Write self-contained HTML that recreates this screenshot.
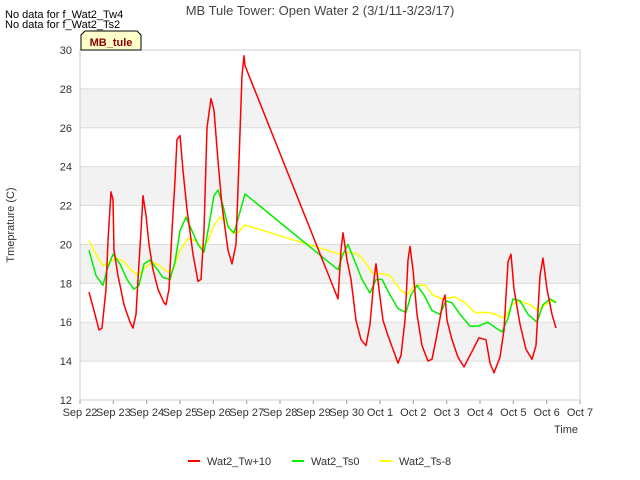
<!DOCTYPE html>
<html><head><meta charset="utf-8"><style>
body{margin:0;background:#fff;font-family:"Liberation Sans",sans-serif}
svg{display:block}
</style></head><body>
<svg id="chart" width="640" height="480" xmlns="http://www.w3.org/2000/svg" font-family="Liberation Sans, sans-serif">
<text x="320" y="15" text-anchor="middle" font-size="13" fill="#444">MB Tule Tower: Open Water 2 (3/1/11-3/23/17)</text>
<text x="5" y="18" font-size="11" fill="#000">No data for f_Wat2_Tw4</text>
<text x="5" y="28" font-size="11" fill="#000">No data for f_Wat2_Ts2</text>
<g id="plot"></g>
<g>
<path d="M81,50 L81,35 L85,31 L137,31 L141,35 L141,50 Z" fill="#ffffcc" stroke="#000" stroke-width="1"/>
<text x="111" y="46" text-anchor="middle" font-size="11" font-weight="bold" fill="#8b0000">MB_tule</text>
</g>
<text x="14" y="225" font-size="11" fill="#333" text-anchor="middle" transform="rotate(-90 14 225)">Tmeprature (C)</text>
<text x="578" y="433" font-size="11" fill="#333" text-anchor="end">Time</text>
<g id="legend"></g>
</svg>
<script>
const xTickLabels=["Sep 22","Sep 23","Sep 24","Sep 25","Sep 26","Sep 27","Sep 28","Sep 29","Sep 30","Oct 1","Oct 2","Oct 3","Oct 4","Oct 5","Oct 6","Oct 7"];
const yTicks=[12,14,16,18,20,22,24,26,28,30];
const seriesNames=["Wat2_Tw+10","Wat2_Ts0","Wat2_Ts-8"];
const twDays=[0.27,0.45,0.57,0.66,0.78,0.84,0.93,0.99,1.02,1.14,1.32,1.5,1.59,1.68,1.74,1.83,1.89,1.98,2.07,2.19,2.34,2.52,2.58,2.67,2.76,2.85,2.91,3,3.09,3.21,3.39,3.54,3.63,3.72,3.81,3.93,4.02,4.14,4.26,4.44,4.56,4.68,4.77,4.86,4.92,4.95,7.74,7.83,7.89,8.01,8.13,8.28,8.43,8.58,8.7,8.82,8.88,8.97,9.09,9.24,9.39,9.54,9.63,9.75,9.84,9.9,9.99,10.11,10.26,10.44,10.56,10.68,10.8,10.89,10.95,11.01,11.16,11.34,11.52,11.7,11.85,11.97,12.18,12.3,12.42,12.6,12.72,12.84,12.93,13.02,13.2,13.38,13.56,13.68,13.8,13.89,14.01,14.16,14.28];
const twVals=[17.55,16.4,15.6,15.7,17.7,20.2,22.7,22.3,19.7,18.4,16.9,16,15.7,16.4,18.2,20.7,22.5,21.5,20,18.7,17.7,17,16.9,17.7,20.7,23.3,25.4,25.6,23.8,21.8,19.5,18.1,18.2,20.7,26,27.5,26.9,24.3,22,19.7,19,20,24.3,28.7,29.7,29.2,17.2,19.7,20.6,19.2,18.2,16.1,15.1,14.8,15.9,18.2,19,17.7,16.1,15.3,14.6,13.9,14.3,16.1,19.2,19.9,18.7,16.4,14.8,14,14.1,15.1,16.2,17.1,17.4,16.1,15.1,14.2,13.7,14.3,14.8,15.2,15.1,13.9,13.4,14.2,15.6,19.1,19.5,17.7,15.9,14.6,14.1,14.8,18.4,19.3,17.7,16.4,15.7];
const ts0Days=[0.27,0.48,0.69,0.81,0.99,1.2,1.41,1.62,1.77,1.92,2.1,2.28,2.49,2.7,2.85,3,3.18,3.36,3.54,3.72,3.87,4.02,4.14,4.29,4.44,4.62,4.77,4.95,7.74,7.89,8.04,8.25,8.46,8.7,8.88,9.06,9.3,9.54,9.78,9.93,10.11,10.32,10.56,10.8,10.98,11.16,11.4,11.7,11.94,12.24,12.48,12.66,12.84,12.99,13.2,13.44,13.71,13.89,14.1,14.28];
const ts0Vals=[19.7,18.4,17.9,18.7,19.5,19,18.2,17.7,17.9,19,19.2,18.8,18.3,18.2,19.1,20.7,21.4,20.7,20,19.6,21,22.5,22.8,22,20.9,20.6,21.5,22.6,18.7,19.5,20,19.1,18.2,17.5,18.2,18.2,17.4,16.7,16.5,17.4,17.9,17.4,16.6,16.4,17.1,17,16.4,15.8,15.8,16,15.7,15.5,16.2,17.2,17.1,16.4,16,16.9,17.2,17];
const ts8Days=[0.27,0.48,0.69,0.9,1.11,1.32,1.53,1.74,1.95,2.16,2.4,2.61,2.79,3,3.24,3.45,3.66,3.84,4.02,4.2,4.38,4.56,4.74,4.95,7.8,8.1,8.34,8.55,8.79,9.06,9.3,9.6,9.81,10.05,10.35,10.59,10.86,11.25,11.55,11.85,12.3,12.75,12.96,13.2,13.5,13.74,13.95,14.16,14.28];
const ts8Vals=[20.2,19.5,18.9,19.1,19.3,19.1,18.7,18.4,18.8,19.1,18.9,18.6,18.7,19.7,20.3,20.2,19.8,20.2,21,21.4,21.2,20.6,20.6,21,19.5,19.6,19.5,19.1,18.5,18.5,18.4,17.7,17.4,17.9,17.9,17.4,17.2,17.3,17,16.5,16.5,16.2,16.9,17.1,16.9,16.6,16.9,17.1,17.1];
const colors=["#ff0000","#00ee00","#ffff00"];
const X0=80,X1=580,Y0=400,Y1=50,D0=0,D1=15,V0=12,V1=30;
const xs=d=>X0+(d-D0)/(D1-D0)*(X1-X0);
const ys=v=>Y0-(v-V0)/(V1-V0)*(Y0-Y1);
const NS="http://www.w3.org/2000/svg";
function mk(tag,attrs,parent){const e=document.createElementNS(NS,tag);for(const k in attrs)e.setAttribute(k,attrs[k]);parent.appendChild(e);return e;}
const plot=document.getElementById('plot');
for(let i=0;i<yTicks.length-1;i++){
  if(i%2===1){const r=mk('rect',{x:X0,y:ys(yTicks[i+1]),width:X1-X0,height:ys(yTicks[i])-ys(yTicks[i+1]),fill:'#f2f2f2'},plot);
  
  }
}
yTicks.forEach(v=>{
  const l=mk('line',{x1:X0,x2:X1,y1:ys(v),y2:ys(v),stroke:'#dcdcdc','stroke-width':1},plot);
  
  
  const t=mk('text',{x:X0-8,y:ys(v)+4,'text-anchor':'end','font-size':11,fill:'#333'},plot);
  t.textContent=v;
  
  
});
xTickLabels.forEach((lab,i)=>{
  const x=xs(i);
  const l=mk('line',{x1:x,x2:x,y1:Y0,y2:Y0+4,stroke:'#999'},plot);
  
  
  const t=mk('text',{x:x,y:Y0+16,'text-anchor':'middle','font-size':11,fill:'#333'},plot);
  t.textContent=lab;
  
  
});
const border=mk('rect',{x:X0,y:Y1,width:X1-X0,height:Y0-Y1,fill:'none',stroke:'#ccc'},plot);


const allD=[twDays,ts0Days,ts8Days],allV=[twVals,ts0Vals,ts8Vals];
[2,1,0].forEach(s=>{
  const pts=allD[s].map((d,i)=>xs(d).toFixed(1)+','+ys(allV[s][i]).toFixed(1)).join(' ');
  const p=mk('polyline',{points:pts,fill:'none',stroke:colors[s],'stroke-width':1.5,'stroke-linejoin':'round'},plot);
  
  
});
const leg=document.getElementById('legend');
const lx=[188,292,380];
seriesNames.forEach((n,i)=>{
  const g=mk('g',{},leg);
  
  
  mk('line',{x1:lx[i],x2:lx[i]+12,y1:461,y2:461,stroke:colors[i],'stroke-width':2},g);
  const t=mk('text',{x:lx[i]+19,y:465,'font-size':11,fill:'#333'},g);
  t.textContent=n;
});
</script>
</body></html>
